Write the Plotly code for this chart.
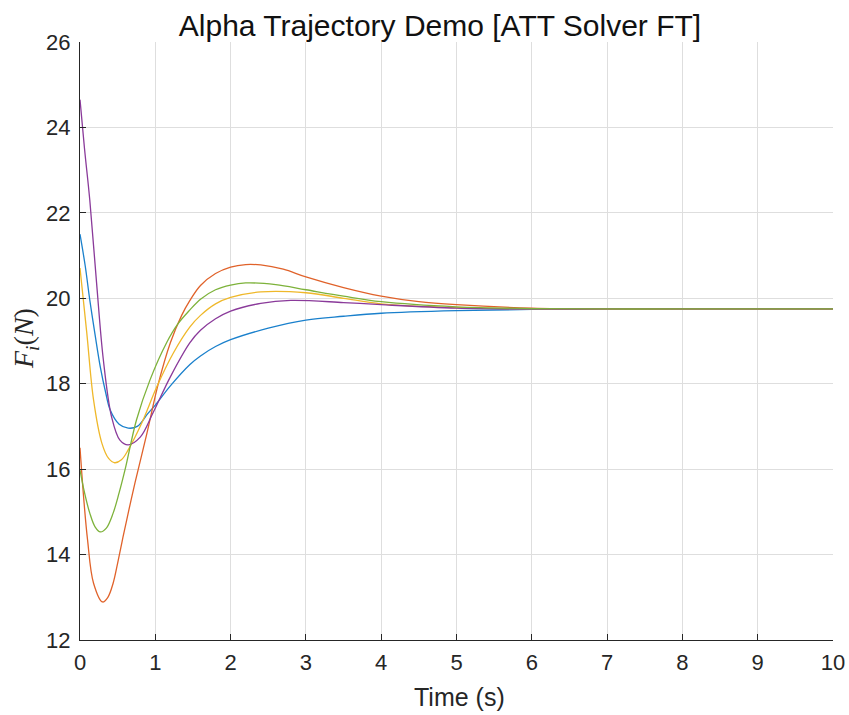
import plotly.graph_objects as go

# Series (time in s, force in N)
t_blue = [0, 0.07, 0.13, 0.2, 0.27, 0.34, 0.4, 0.52, 0.64, 0.76, 0.9, 1.0, 1.2, 1.46, 1.6, 1.8, 2.0, 2.5, 3.0, 3.5, 4.0, 5.0, 6.0, 7.0, 8.0, 10.0]
y_blue = [21.5, 20.75, 19.96, 19.15, 18.39, 17.8, 17.39, 17.05, 16.96, 17.0, 17.3, 17.5, 17.95, 18.45, 18.65, 18.87, 19.03, 19.3, 19.49, 19.58, 19.65, 19.71, 19.74, 19.75, 19.75, 19.75]

t_orange = [0, 0.05, 0.1, 0.18, 0.3, 0.37, 0.44, 0.5, 0.57, 0.65, 0.73, 0.89, 1.04, 1.2, 1.35, 1.46, 1.6, 1.8, 2.0, 2.2, 2.4, 2.7, 3.0, 3.5, 4.0, 4.5, 5.0, 6.0, 7.0, 8.0, 10.0]
y_orange = [16.5, 15.3, 14.35, 13.33, 12.89, 13.0, 13.33, 13.8, 14.4, 15.05, 15.68, 16.85, 18.0, 18.96, 19.6, 19.95, 20.3, 20.58, 20.73, 20.79, 20.78, 20.68, 20.5, 20.25, 20.05, 19.92, 19.85, 19.77, 19.75, 19.75, 19.75]

t_yellow = [0, 0.09, 0.18, 0.29, 0.38, 0.46, 0.55, 0.64, 0.82, 1.02, 1.24, 1.46, 1.6, 1.8, 2.0, 2.4, 3.0, 3.5, 4.0, 5.0, 6.0, 7.0, 8.0, 10.0]
y_yellow = [20.71, 19.19, 17.62, 16.61, 16.25, 16.15, 16.22, 16.45, 17.08, 17.93, 18.72, 19.33, 19.6, 19.87, 20.02, 20.15, 20.13, 20.0, 19.87, 19.78, 19.75, 19.75, 19.75, 19.75]

t_purple = [0, 0.06, 0.13, 0.22, 0.31, 0.42, 0.53, 0.64, 0.8, 0.97, 1.2, 1.46, 1.6, 1.8, 2.0, 2.4, 2.8, 3.5, 4.0, 5.0, 6.0, 7.0, 8.0, 10.0]
y_purple = [24.65, 23.5, 22.3, 20.36, 18.56, 17.22, 16.68, 16.57, 16.75, 17.32, 18.16, 18.96, 19.25, 19.52, 19.7, 19.88, 19.95, 19.9, 19.85, 19.77, 19.75, 19.75, 19.75, 19.75]

t_green = [0, 0.06, 0.13, 0.2, 0.27, 0.35, 0.44, 0.52, 0.6, 0.75, 0.93, 1.15, 1.3, 1.46, 1.6, 1.8, 2.0, 2.2, 2.6, 3.0, 3.5, 4.0, 5.0, 6.0, 7.0, 8.0, 10.0]
y_green = [15.98, 15.45, 14.97, 14.65, 14.53, 14.62, 14.97, 15.45, 16.0, 17.15, 18.09, 18.96, 19.4, 19.73, 19.98, 20.2, 20.31, 20.36, 20.32, 20.2, 20.05, 19.92, 19.8, 19.76, 19.75, 19.75, 19.75]

x_ticks = list(range(0, 11))
y_ticks = [12, 14, 16, 18, 20, 22, 24, 26]

series = [
    (t_blue, y_blue, "#1a80cc"),
    (t_orange, y_orange, "#e0622a"),
    (t_yellow, y_yellow, "#efb82a"),
    (t_purple, y_purple, "#8a3a9a"),
    (t_green, y_green, "#7db23a"),
]

fig = go.Figure()
for t, y, c in series:
    fig.add_trace(go.Scatter(x=t, y=y, mode="lines",
                             line=dict(color=c, width=1.3, shape="spline", smoothing=1.0),
                             showlegend=False, hoverinfo="skip"))

axis_common = dict(
    showgrid=True, gridcolor="#dedede", gridwidth=1,
    zeroline=False, showline=True, linecolor="#262626", linewidth=1,
    ticks="inside", ticklen=6, tickcolor="#262626", automargin=False,
    tickfont=dict(family="Liberation Sans, Arial", size=22, color="#262626"),
)

fig.update_layout(
    width=849, height=715,
    margin=dict(l=80, r=16, t=42, b=75),
    paper_bgcolor="white", plot_bgcolor="white",
    title=dict(text="Alpha Trajectory Demo [ATT Solver FT]",
               font=dict(family="Liberation Sans, Arial", size=30, color="#111111"),
               x=440 / 849, xanchor="center", xref="container",
               y=0.965, yanchor="middle", yref="container"),
    xaxis=dict(range=[0, 10], tickvals=x_ticks, ticklabelstandoff=3, **axis_common),
    yaxis=dict(range=[12, 26], tickvals=y_ticks, ticklabelstandoff=4, **axis_common),
    annotations=[
        dict(text="Time (s)", xref="paper", yref="paper",
             x=(459 - 80) / 753, y=(640 - 697) / 598,
             xanchor="center", yanchor="middle", showarrow=False,
             font=dict(family="Liberation Sans, Arial", size=25, color="#262626")),
        dict(text="<i>F<sub>i</sub></i>(<i>N</i>)", xref="paper", yref="paper",
             x=(25 - 80) / 753, y=(640 - 339) / 598, textangle=-90,
             xanchor="center", yanchor="middle", showarrow=False,
             font=dict(family="Liberation Serif, Times New Roman", size=28, color="#262626")),
    ],
)

fig.write_html("out.html")
